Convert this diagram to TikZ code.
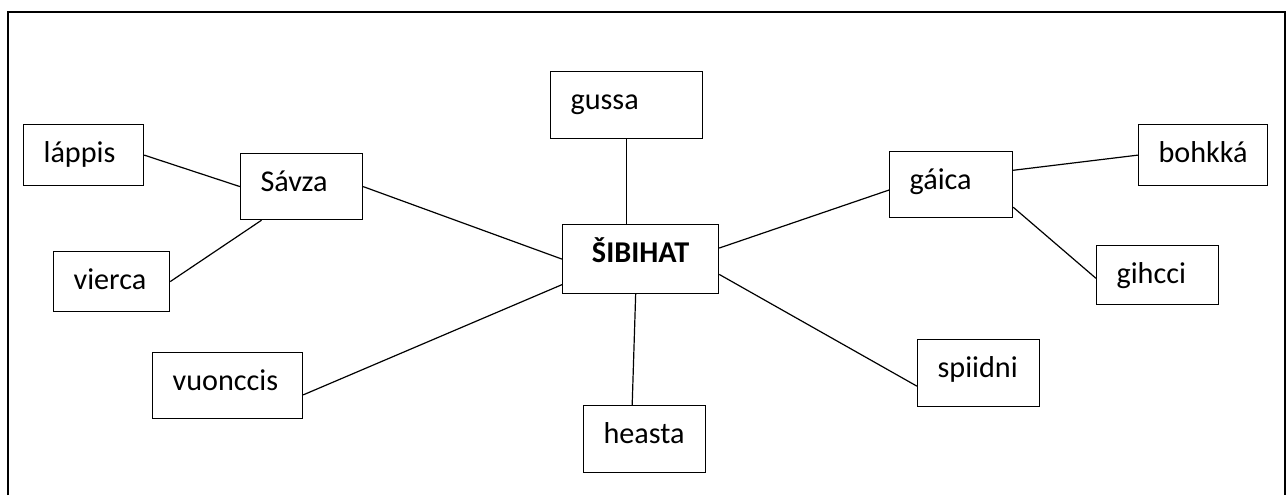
\documentclass[tikz,border=0pt]{standalone}
\usepackage{fontspec}
\setmainfont{Carlito}
\begin{document}
\begin{tikzpicture}[x=0.5pt, y=-0.5pt, font=\fontsize{15.1pt}{18pt}\selectfont,
    wbox/.style 2 args={draw, line width=0.6pt, anchor=north west, align=left,
      inner xsep=10pt, inner ysep=0pt, text width=#1, text height=19pt, text depth=#2},
    link/.style={line width=0.6pt}]
    \useasboundingbox (0,0) rectangle (1287,495);
    % Frame, open at the bottom
    \draw[line width=1.3pt] (8,495) -- (8,12) -- (1285,12) -- (1285,495);

    % Boxes
    \node (sib) [wbox={58pt}{15.5pt}, align=center, font=\fontsize{15.1pt}{18pt}\selectfont\bfseries] at (562,224) {ŠIBIHAT};
    \node (gussa) [wbox={56pt}{14.5pt}] at (550,71) {gussa};
    \node (heasta) [wbox={41pt}{14.5pt}] at (583,405) {heasta};
    \node (savza) [wbox={41pt}{14pt}] at (240,153) {Sávza};
    \node (lappis) [wbox={40pt}{11.5pt}] at (23,124) {láppis};
    \node (vierca) [wbox={38pt}{11pt}] at (53,251) {vierca};
    \node (vuonccis) [wbox={55pt}{14pt}] at (152,352) {vuonccis};
    \node (gaica) [wbox={41.5pt}{14pt}] at (889,151) {gáica};
    \node (bohkka) [wbox={44.5pt}{11.5pt}] at (1138,124) {bohkká};
    \node (gihcci) [wbox={41pt}{10.5pt}] at (1096,245) {gihcci};
    \node (spiidni) [wbox={41pt}{14.5pt}] at (917,339) {spiidni};

    % Connectors
    \draw[link] (lappis.east) -- (savza.west);
    \draw[link] (savza.220) -- (vierca.east);
    \draw[link] (savza.east) -- (sib.west);
    \draw[link] (vuonccis.-7) -- (sib.198);
    \draw[link] (gussa.south) -- (gussa.south |- sib.north);
    \draw[link] (sib.262) -- (heasta.110);
    \draw[link] (sib.8) -- (gaica.185);
    \draw[link] (sib.-11) -- (spiidni.192);
    \draw[link] (gaica.13) -- (bohkka.west);
    \draw[link] (gaica.-20) -- (gihcci.183);
\end{tikzpicture}
\end{document}
